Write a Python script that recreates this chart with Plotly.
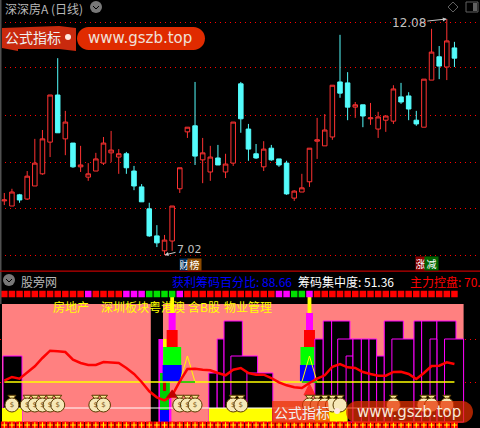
import plotly.graph_objects as go
from plotly.subplots import make_subplots

W, H = 480, 428
CJK = "Noto Sans CJK SC"

# daily candles, price (12, 11, 10, 9, 8, 7)
opens = [8.18, 8.07, 8.31, 8.22, 8.50, 8.76, 9.44, 10.45, 9.51, 9.42,
         8.91, 8.69, 8.82, 8.99, 9.21, 9.12, 9.19, 8.82, 8.48, 8.01,
         7.43, 7.11, 7.32, 8.44, 9.66, 9.79, 9.06, 8.80, 9.10, 8.80,
         8.99, 10.69, 9.72, 9.19, 8.91, 9.31, 9.08, 8.99, 8.24, 8.37,
         8.59, 9.46, 9.36, 9.55, 10.73, 10.71, 10.19, 10.24, 9.94, 9.72,
         9.91, 9.89, 10.41, 10.43, 9.91, 9.76, 10.77, 11.27, 11.05, 11.46]
highs = [8.35, 8.44, 8.33, 8.82, 9.51, 9.70, 10.45, 11.24, 10.11, 9.42,
         9.36, 8.99, 9.21, 9.55, 9.68, 9.29, 9.23, 8.93, 8.54, 8.14,
         7.66, 7.45, 8.07, 8.89, 9.76, 10.73, 9.53, 9.36, 9.38, 9.19,
         9.87, 10.73, 9.83, 9.40, 9.46, 9.38, 9.08, 9.04, 8.41, 8.76,
         9.31, 9.96, 10.04, 10.66, 11.74, 10.94, 10.30, 10.24, 10.28, 10.09,
         10.00, 10.66, 10.71, 10.51, 10.11, 10.79, 11.87, 11.50, 12.08, 11.59]
lows = [8.09, 8.07, 8.14, 8.20, 8.50, 8.74, 9.12, 9.64, 9.16, 8.89,
        8.80, 8.61, 8.82, 8.95, 9.01, 8.76, 8.76, 8.41, 8.16, 7.41,
        7.19, 7.02, 7.11, 8.35, 9.53, 8.95, 8.56, 8.61, 8.95, 8.67,
        8.93, 9.64, 9.04, 9.08, 8.82, 9.04, 8.91, 8.31, 8.18, 8.37,
        8.48, 9.08, 9.36, 9.49, 10.39, 9.91, 9.96, 9.76, 9.81, 9.53,
        9.66, 9.83, 10.26, 9.91, 9.79, 9.76, 10.77, 10.79, 10.77, 11.05]
closes = [8.20, 8.37, 8.20, 8.71, 8.99, 9.51, 10.45, 9.64, 9.87, 8.91,
          8.95, 8.76, 9.08, 9.42, 9.27, 9.19, 8.89, 8.50, 8.16, 7.43,
          7.28, 7.34, 8.07, 8.89, 9.76, 9.14, 9.21, 9.12, 8.95, 8.97,
          9.87, 9.94, 9.29, 9.10, 9.29, 9.06, 8.95, 8.33, 8.39, 8.46,
          9.31, 9.49, 9.70, 10.66, 10.49, 10.19, 10.24, 10.00, 9.96, 9.98,
          10.00, 10.58, 10.30, 10.15, 9.83, 10.79, 11.37, 11.07, 11.61, 11.24]
days = list(range(len(opens)))
price_grid = [12.01, 11.03, 10.02, 9.01, 8.01, 7.02]

# lower indicator, in its own scale
red_line = [47.3, 51, 49.3, 55.7, 61.7, 70, 77.3, 76.7, 76, 68.3,
            65, 63, 63, 66, 65.3, 65, 60, 54, 46, 36.7,
            30.7, 27.7, 32.7, 46.7, 59, 59.3, 58.3, 57.7, 55, 52.7,
            58.3, 60, 55, 53.3, 53.3, 50, 45.7, 42.7, 40.7, 40,
            45, 49.3, 52.7, 61.3, 64, 60.7, 60, 56, 54, 52.3,
            52.3, 56, 56.3, 54, 49, 55, 62, 62.3, 65.7, 64]
yellow_level = 46
white_level = 20
lower_grid = [89, 46]
band_base, band_top = 6, 124

magenta_days = [11, 16, 17, 18, 23, 36, 37, 40]
green_days = [19, 20, 21, 22, 38, 39]
bag_days = [1, 3, 4, 5, 6, 7, 12, 13, 23, 24, 25, 30, 31,
            40, 41, 42, 43, 44, 51, 55, 56, 58]
# the bottom watermark lies over these, their $ does not show through
faded_bag_days = [40, 41, 42, 43, 44, 51, 55, 56, 58]

# black columns: left day, right day, top
col_left = [-0.17, 26.8, 27.9, 28.8, 29.7, 31.8, 40.7, 41.8, 42.9, 43.7, 44.8, 45.7, 46.8,
            47.8, 48.8, 49.8, 50.8, 53.7, 54.7, 56.7, 55.8, 57.7]
col_right = [2.32, 27.9, 28.8, 31.2, 33.2, 35.2, 41.8, 42.9, 45.3, 45.7, 45.7, 46.8, 47.8,
             48.8, 49.8, 52.3, 53.7, 54.7, 56.7, 59.2, 56.7, 60.2]
col_top = [72, 55, 89, 107, 72, 55, 89, 107, 107, 89, 72, 89, 89,
           89, 72, 107, 89, 107, 107, 107, 89, 89]

# yellow blocks under the white line
block_left = [-0.3, 26.8, 40.7]
block_right = [2.32, 35.1, 45.0]
block_top = [20, 20, 20]

# two stacked towers
tower_days = [22, 40]
tower_colors = ["#0000FF", "#00FF00", "#FF0000", "#FF00FF", "#FFFF00"]
tower_widths = [2.5, 2.36, 1.44, 0.92, 0.5]
tower_bases = [46, 63, 81, 98, 115]
tower_tops = [63, 81, 98, 115, 132]

# pieces under the first tower
seg_left = [19.2, 20.2, 20.8, 20.4, 20.8, 20.4, 21.7]
seg_right = [20.8, 20.8, 21.4, 21.7, 21.2, 21.6, 21.9]
seg_base = [6, 6, 46, 18, 37, 6, 6]
seg_top = [124, 89, 89, 55, 46, 18, 30]
seg_color = ["#000000", "#FF00FF", "#FFFF00", "#00D000", "#C00000", "#0000FF", "#FF00FF"]

signal_days = [24, 40]
signal_top = 72
signal_half = 1.0


def px(x):
    return x / W


def py(y):
    return 1 - y / H


def rect(x0, y0, x1, y1, color, opacity=1, line=None):
    return dict(type="rect", xref="paper", yref="paper", x0=px(x0), x1=px(x1), y0=py(y0), y1=py(y1),
                fillcolor=color, opacity=opacity, line=dict(width=1 if line else 0, color=line or color))


def poly(points, color, opacity=1, close=True, line=None):
    d = "M" + " L".join(f"{px(a):.5f},{py(b):.5f}" for a, b in points) + (" Z" if close else "")
    return dict(type="path", xref="paper", yref="paper", path=d, opacity=opacity,
                fillcolor=color if close else None,
                line=dict(width=1 if line else 0, color=line or color))


def pill(x0, y0, x1, y1, color, opacity=1):
    r = (y1 - y0) / 2
    k = r * 0.55
    d = (f"M{px(x0 + r):.5f},{py(y0):.5f} L{px(x1 - r):.5f},{py(y0):.5f} "
         f"C{px(x1 - r + k):.5f},{py(y0):.5f} {px(x1):.5f},{py(y0 + r - k):.5f} {px(x1):.5f},{py(y0 + r):.5f} "
         f"C{px(x1):.5f},{py(y1 - r + k):.5f} {px(x1 - r + k):.5f},{py(y1):.5f} {px(x1 - r):.5f},{py(y1):.5f} "
         f"L{px(x0 + r):.5f},{py(y1):.5f} "
         f"C{px(x0 + r - k):.5f},{py(y1):.5f} {px(x0):.5f},{py(y1 - r + k):.5f} {px(x0):.5f},{py(y0 + r):.5f} "
         f"C{px(x0):.5f},{py(y0 + r - k):.5f} {px(x0 + r - k):.5f},{py(y0):.5f} {px(x0 + r):.5f},{py(y0):.5f} Z")
    return dict(type="path", xref="paper", yref="paper", path=d, fillcolor=color, opacity=opacity, line=dict(width=0))


def note(text, x, y, color, size=12, anchor="left", font=CJK, **kw):
    return dict(text=text, xref="paper", yref="paper", x=px(x), y=py(y), xanchor=anchor, yanchor="middle",
                showarrow=False, font=dict(color=color, size=size, family=font), **kw)


def badge(text, x0, x1, y0, y1, bg):
    return dict(text=text, xref="paper", yref="paper", x=px((x0 + x1) / 2), y=py((y0 + y1) / 2),
                xanchor="center", yanchor="middle", showarrow=False, width=x1 - x0, height=y1 - y0,
                bgcolor=bg, borderpad=0, font=dict(color="#FFFFFF", size=10, family=CJK))


def spans(left, right, base, top, color, line=None):
    return go.Bar(x=[(a + b) / 2 for a, b in zip(left, right)],
                  width=[b - a for a, b in zip(left, right)],
                  base=base, y=[t - b for t, b in zip(top, base)],
                  marker=dict(color=color, line=dict(width=1 if line else 0, color=line or "rgba(0,0,0,0)")),
                  hoverinfo="skip")


fig = make_subplots(rows=2, cols=1, vertical_spacing=0, shared_xaxes=False)

fig.add_trace(go.Candlestick(
    x=days, open=opens, high=highs, low=lows, close=closes, whiskerwidth=0,
    increasing=dict(fillcolor="#000000", line=dict(color="#FF3232", width=1)),
    decreasing=dict(fillcolor="#54FCFC", line=dict(color="#54FCFC", width=1)),
), row=1, col=1)

# lower panel, back to front
fig.add_trace(spans([-0.3], [60.2], [band_base], [band_top], "#FF8080"), row=2, col=1)
fig.add_trace(spans(seg_left, seg_right, seg_base, seg_top, seg_color), row=2, col=1)
for c, w, b, t in zip(tower_colors, tower_widths, tower_bases, tower_tops):
    fig.add_trace(spans([d - w / 2 for d in tower_days], [d + w / 2 for d in tower_days],
                        [b, b], [t, t], c), row=2, col=1)
for a, b, t in zip(col_left, col_right, col_top):
    fig.add_trace(spans([a], [b], [band_base], [t], "#000000", line="#FF00FF"), row=2, col=1)
fig.add_trace(spans(block_left, block_right, [band_base] * 3, block_top, "#FFFF00"), row=2, col=1)

fig.add_trace(go.Scatter(x=[days[0], days[-1]], y=[white_level] * 2, mode="lines",
                         line=dict(color="#FFFFFF", width=1)), row=2, col=1)
fig.add_trace(go.Scatter(x=[days[0], days[-1]], y=[yellow_level] * 2, mode="lines",
                         line=dict(color="#FFFF00", width=1.5)), row=2, col=1)
for d in signal_days:
    fig.add_trace(go.Scatter(x=[d - signal_half, d, d + signal_half], y=[yellow_level, signal_top, yellow_level],
                             mode="lines", line=dict(color="#FFFF00", width=1)), row=2, col=1)
    fig.add_trace(go.Scatter(x=[d - signal_half, d + signal_half], y=[yellow_level, yellow_level],
                             mode="lines", line=dict(color="#00C000", width=1.5)), row=2, col=1)
fig.add_trace(go.Scatter(x=days, y=red_line, mode="lines", line=dict(color="#FF0000", width=2.5)), row=2, col=1)

# arrow at the second tower, dark flag at the first
fig.add_trace(go.Scatter(x=[40, 40], y=[28, 44], mode="lines+markers",
                         line=dict(color="#FF0000", width=1.5),
                         marker=dict(symbol=["line-ew", "arrow-up"], size=[1, 11], color="#FF0000",
                                     line=dict(width=1, color="#FF0000"))), row=2, col=1)
fig.add_trace(go.Scatter(x=[22], y=[33], mode="markers",
                         marker=dict(symbol="triangle-up", size=11, color="#C00000")), row=2, col=1)

# money bags
fig.add_trace(go.Scatter(x=bag_days, y=[31] * len(bag_days), mode="markers",
                         marker=dict(symbol="triangle-down", size=7, color="#F8E890",
                                     line=dict(width=1, color="#5A3A00"))), row=2, col=1)
fig.add_trace(go.Scatter(x=bag_days, y=[23] * len(bag_days), mode="markers+text",
                         text=["" if d in faded_bag_days else "$" for d in bag_days],
                         textposition="middle center",
                         textfont=dict(size=7, color="#7A5010", family="DejaVu Sans"),
                         marker=dict(symbol="circle", size=14, color="#F6E8B8",
                                     line=dict(width=1, color="#5A3A00"))), row=2, col=1)

# signal squares and the plus row
top_colors = ["#FF00FF" if d in magenta_days else "#00E000" if d in green_days else "#FF0000" for d in days]
fig.add_trace(go.Scatter(x=days, y=[134] * len(days), mode="markers",
                         marker=dict(symbol="square", size=6.5, color=top_colors)), row=2, col=1)
fig.add_trace(go.Scatter(x=days, y=[3] * len(days), mode="markers",
                         marker=dict(symbol="square", size=7, color="#FF0000")), row=2, col=1)
fig.add_trace(go.Scatter(x=days, y=[3] * len(days), mode="markers",
                         marker=dict(symbol="cross-thin", size=4, color="#FFFF00",
                                     line=dict(width=1, color="#FFFF00"))), row=2, col=1)

x_range = [-0.5636, 62.35]
axis = dict(range=x_range, visible=True, showticklabels=False, ticks="", showgrid=False, zeroline=False,
            showline=False, fixedrange=True, rangeslider=dict(visible=False))
grid = dict(showticklabels=False, ticks="", showgrid=True, zeroline=False, showline=False, fixedrange=True,
            gridcolor="#FF0000", griddash="1px,4px", gridwidth=1)

shapes = [
    # frame
    rect(0, 0, 1.5, 304, "#505050"),
    rect(0, 270.5, W, 271.8, "#C00000"),
    # header icons
    dict(type="circle", xref="paper", yref="paper", x0=px(90), x1=px(102), y0=py(1), y1=py(13),
         fillcolor="#787878", line=dict(width=0)),
    poly([(93, 6), (96, 9), (99, 6)], "#000000", close=False, line="#000000"),
    dict(type="circle", xref="paper", yref="paper", x0=px(3), x1=px(15), y0=py(274), y1=py(286),
         fillcolor="#787878", line=dict(width=0)),
    poly([(6, 279), (9, 282), (12, 279)], "#000000", close=False, line="#000000"),
    poly([(453, 2), (458, 7), (453, 12), (448, 7), (453, 2)], "#505050", close=False, line="#606060"),
    rect(466, 2, 478, 12, "#000000", line="#606060"),
    rect(473, 3, 477, 11, "#606060"),
    # top watermark
    poly([(2, 28), (59, 26), (76, 28), (76, 51), (59, 49), (18, 49), (18, 51), (2, 48)], "#C92A0E"),
    pill(77, 27, 205, 50, "#E02B00"),
    # bottom watermark
    poly([(272, 401), (328, 401), (330, 423), (272, 423)], "#E83000", opacity=0.72),
    pill(346, 401, 473, 423, "#E83000", opacity=0.72),
    dict(type="circle", xref="paper", yref="paper", x0=px(65), x1=px(71), y0=py(34), y1=py(40),
         fillcolor="#FFE8E0", line=dict(width=0)),
    dict(type="circle", xref="paper", yref="paper", x0=px(334), x1=px(340), y0=py(408), y1=py(414),
         fillcolor="#FFE8E0", line=dict(width=0)),
]

annotations = [
    note("深深房A (日线)", 3, 8, "#B8B8B8", 12),
    note("公式指标", 3, 37, "#F0F0F0", 14),
    note("www.gszb.top", 86, 38, "#F0E0D8", 15, font="DejaVu Sans"),
    note("股旁网", 19, 281, "#B8B8B8", 12),
    note("获利筹码百分比: 88.66", 170, 281, "#0000FF", 12),
    note("筹码集中度: 51.36", 296, 281, "#FFFFFF", 12),
    note("主力控盘: 70.", 408, 281, "#FF0000", 12),
    note("房地产", 51, 306, "#FFFF00", 12),
    note("深圳板块粤港澳", 99, 306, "#FFFF00", 12),
    note("含B股", 186, 306, "#FFFF00", 12),
    note("物业管理", 222, 306, "#FFFF00", 12),
    note("公式指标", 272, 412, "#F0F0F0", 14),
    note("www.gszb.top", 355, 412, "#F8E8D8", 15, font="DejaVu Sans"),
    dict(text="12.08", x=days[58], y=highs[58], xref="x", yref="y", ax=-38, ay=4, showarrow=True,
         arrowhead=2, arrowsize=0.8, arrowwidth=1, arrowcolor="#C8C8C8",
         font=dict(color="#C0C0C0", size=12, family="DejaVu Sans")),
    dict(text="7.02", x=days[21], y=lows[21], xref="x", yref="y", ax=25, ay=-6, showarrow=True,
         arrowhead=2, arrowsize=0.8, arrowwidth=1, arrowcolor="#C8C8C8",
         font=dict(color="#C0C0C0", size=11, family="DejaVu Sans")),
    badge("财", 180, 188, 259, 270, "#003060"),
    badge("榜", 188, 201, 259, 270, "#8B4A00"),
    badge("涨", 416, 425, 257, 270, "#8B0000"),
    badge("减", 425, 438, 257, 270, "#006400"),
]

fig.update_layout(
    width=W, height=H, margin=dict(l=0, r=0, t=0, b=0),
    paper_bgcolor="#000000", plot_bgcolor="#000000",
    showlegend=False, barmode="overlay", boxgap=0.15,
    xaxis=axis, xaxis2={k: v for k, v in axis.items() if k != "rangeslider"},
    yaxis=dict(grid, domain=[157 / H, 1], range=[6.677, 12.487], tickvals=price_grid),
    yaxis2=dict(grid, domain=[0, 157 / H], range=[0, 157], tickvals=lower_grid),
    shapes=shapes, annotations=annotations,
)

fig.write_html("out.html", config={"displayModeBar": False},
               post_script="document.body.style.margin='0';document.body.style.background='#000';")
